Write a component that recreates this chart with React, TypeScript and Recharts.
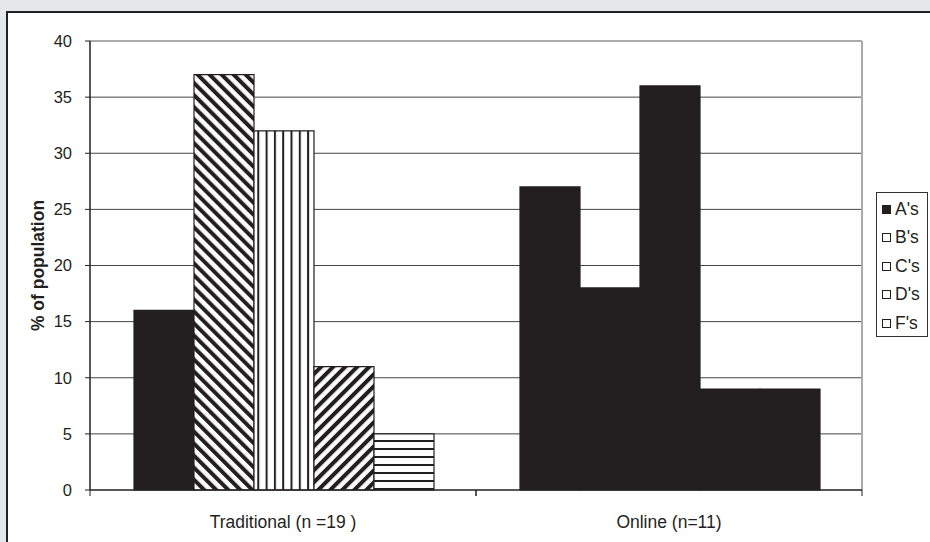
import { Bar, BarChart, CartesianGrid, Cell, XAxis, YAxis } from 'recharts';

const categories = ['Traditional (n =19 )', 'Online (n=11)'];
const gradeNames = ["A's", "B's", "C's", "D's", "F's"];
const aValues = [16, 27];
const bValues = [37, 18];
const cValues = [32, 36];
const dValues = [11, 9];
const fValues = [5, 9];
const yTicks = [0, 5, 10, 15, 20, 25, 30, 35, 40];

const seriesKeys = ['a', 'b', 'c', 'd', 'f'];
const seriesValues = [aValues, bValues, cValues, dValues, fValues];
// fill used by the Traditional group; Online bars are all solid
const traditionalFills = ['#231f20', 'url(#hatchBack)', 'url(#vlines)', 'url(#hatchFwd)', 'url(#hlines)'];

const data = categories.map((name, i) => {
  const row: Record<string, string | number> = { name };
  seriesKeys.forEach((k, j) => {
    row[k] = seriesValues[j][i];
  });
  return row;
});

const FONT = '"Liberation Sans", Arial, sans-serif';
const INK = '#231f20';

function CategoryTick(props: any) {
  const { x, y, payload } = props;
  const half = payload?.offset ?? 0;
  const axisY = y - 26;
  return (
    <g>
      {half > 0 && (
        <>
          <line x1={x - half} x2={x - half} y1={axisY} y2={axisY + 6} stroke={INK} />
          <line x1={x + half} x2={x + half} y1={axisY} y2={axisY + 6} stroke={INK} />
        </>
      )}
      <text x={x} y={y} dy="0.71em" textAnchor="middle" fontSize={17.5} fill={INK} fontFamily={FONT}>
        {payload.value}
      </text>
    </g>
  );
}

export default function App() {
  return (
    <div style={{ position: 'absolute', left: 0, top: 0, width: 930, height: 542, background: '#e6e7e9', overflow: 'hidden' }}>
      <div
        style={{
          position: 'absolute',
          left: 6,
          top: 11,
          width: 930,
          height: 540,
          background: '#fff',
          borderLeft: '2px solid #222',
          borderTop: '2px solid #222',
        }}
      />
      <div style={{ position: 'absolute', left: 0, top: 0 }}>
        <BarChart
          width={930}
          height={542}
          data={data}
          margin={{ top: 41, right: 68, bottom: 22, left: 0 }}
          barCategoryGap={44}
          barGap={0}
          style={{ fontFamily: FONT }}
        >
          <defs>
            <pattern id="hatchBack" width="8.5" height="8.5" patternUnits="userSpaceOnUse" patternTransform="rotate(-45)">
              <rect width="8.5" height="8.5" fill="#fff" />
              <line x1="2" y1="0" x2="2" y2="8.5" stroke={INK} strokeWidth="4" />
            </pattern>
            <pattern id="hatchFwd" width="8.5" height="8.5" patternUnits="userSpaceOnUse" patternTransform="rotate(45)">
              <rect width="8.5" height="8.5" fill="#fff" />
              <line x1="2" y1="0" x2="2" y2="8.5" stroke={INK} strokeWidth="4" />
            </pattern>
            <pattern id="vlines" width="8.3" height="8" patternUnits="userSpaceOnUse">
              <rect width="8.3" height="8" fill="#fff" />
              <line x1="1" y1="0" x2="1" y2="8" stroke={INK} strokeWidth="2" />
            </pattern>
            <pattern id="hlines" width="8" height="8" patternUnits="userSpaceOnUse">
              <rect width="8" height="8" fill="#fff" />
              <line x1="0" y1="1" x2="8" y2="1" stroke={INK} strokeWidth="2" />
            </pattern>
          </defs>
          <CartesianGrid vertical={false} horizontalValues={[5, 10, 15, 20, 25, 30, 35]} stroke="#444" />
          <CartesianGrid
            horizontalValues={[40]}
            verticalCoordinatesGenerator={({ offset }: any) => [offset.left + offset.width]}
            stroke="#aaa"
            strokeWidth={2}
          />
          <XAxis
            dataKey="name"
            axisLine={{ stroke: INK, strokeWidth: 1.5 }}
            tickLine={false}
            tickSize={0}
            tickMargin={26}
            height={30}
            interval={0}
            tick={<CategoryTick />}
          />
          <YAxis
            domain={[0, 40]}
            ticks={yTicks}
            width={90}
            axisLine={{ stroke: INK, strokeWidth: 1.5 }}
            tickLine={{ stroke: INK }}
            tickSize={5}
            tickMargin={13}
            tick={{ fill: INK, fontSize: 16.5, fontFamily: FONT }}
            label={{
              value: '% of population',
              angle: -90,
              position: 'center',
              dx: -7,
              style: { fontWeight: 'bold', fontSize: 17.5, fill: INK, fontFamily: FONT, textAnchor: 'middle' },
            }}
          />
          {seriesKeys.map((k, j) => (
            <Bar key={k} dataKey={k} name={gradeNames[j]} stroke={INK} strokeWidth={1.2} isAnimationActive={false}>
              {data.map((_, i) => (
                <Cell key={i} fill={i === 0 ? traditionalFills[j] : INK} />
              ))}
            </Bar>
          ))}
        </BarChart>
      </div>
      <div
        style={{
          position: 'absolute',
          left: 876,
          top: 192,
          width: 52,
          height: 145,
          border: '1px solid #333',
          background: '#fff',
          fontFamily: FONT,
          fontSize: 17.5,
          color: INK,
          boxSizing: 'border-box',
          paddingTop: 2,
        }}
      >
        {gradeNames.map((g, j) => (
          <div key={g} style={{ display: 'flex', alignItems: 'center', height: 28.5, paddingLeft: 5 }}>
            <span
              style={{
                display: 'inline-block',
                width: 7,
                height: 7,
                border: `1px solid ${INK}`,
                background: j === 0 ? INK : '#fff',
                marginRight: 4,
              }}
            />
            <span>{g}</span>
          </div>
        ))}
      </div>
    </div>
  );
}
